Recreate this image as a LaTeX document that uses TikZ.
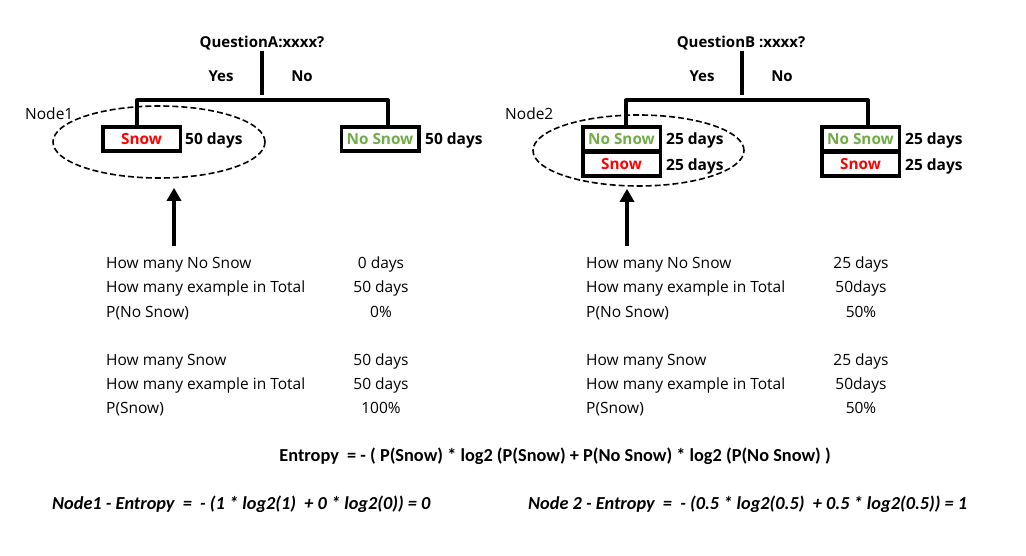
\documentclass[tikz,border=0pt]{standalone}
\usepackage{fontspec}
\setmainfont{Open Sans}
\newfontfamily\calib{Carlito}
\usetikzlibrary{shapes.geometric,arrows.meta}
\definecolor{snowred}{RGB}{255,0,0}
\definecolor{nsgreen}{RGB}{112,173,71}
\begin{document}
\begin{tikzpicture}[x=1pt,y=-1pt,
  lbl/.style={font=\fontsize{15}{18}\selectfont\bfseries, inner sep=0pt},
  days/.style={font=\fontsize{15.5}{18}\selectfont\bfseries, inner sep=0pt, anchor=base west},
  plain/.style={font=\fontsize{15.5}{18}\selectfont, inner sep=0pt},
  val/.style={plain, anchor=base},
  row/.style={plain, anchor=base west},
  box/.style={draw, line width=3.5pt, minimum width=77.5pt, minimum height=24pt, inner sep=0pt,
    text height=11.5pt, text depth=-1pt, font=\fontsize{15.3}{18}\selectfont\bfseries},
  tree/.style={line width=4pt, line join=round},
  grp/.style={draw, ellipse, dash pattern=on 6pt off 3pt, line width=1.6pt, inner sep=0pt},
  up/.style={line width=4pt, -{Triangle[length=13pt,width=14pt]}},
  formula/.style={font=\calib\fontsize{18.3}{21}\selectfont\bfseries, inner sep=0pt, anchor=base},
  formi/.style={font=\calib\fontsize{18.3}{21}\selectfont\bfseries\itshape, inner sep=0pt, anchor=base west}
]
\useasboundingbox[fill=white] (0,0) rectangle (1026,556);

% ---------- Tree A ----------
\node[lbl, anchor=base] (qA) at (262,48) {QuestionA:xxxx?};
\node[lbl, anchor=base] (yA) at (221,82) {Yes};
\node[lbl, anchor=base] (noA) at (302,82) {No};
\coordinate (bAL) at (137,100.5);
\coordinate (bAR) at (388,100.5);
\node[box, text=snowred] (sA) at (141.5,139) {Snow};
\node[box, text=nsgreen] (nA) at (380,139) {No Snow};
\node[days] (dA1) at (185,145) {50 days};
\node[days] (dA2) at (425,145) {50 days};
\draw[tree] (qA.south) -- ([yshift=5pt]qA.south |- bAL);
\draw[tree] (sA.north -| bAL) -- (bAL) -- (bAR) -- (nA.north -| bAR);
\node[grp, minimum width=212pt, minimum height=72pt] (eA) at (159,142) {};
\node[plain, anchor=west] (n1) at (25,114) {Node1};
\coordinate (aA) at (174,246);
\draw[up, shorten >=9pt] (aA) -- (aA |- eA.south);

% ---------- Tree B ----------
\node[lbl, anchor=base] (qB) at (741,48) {QuestionB :xxxx?};
\node[lbl, anchor=base] (yB) at (702,82) {Yes};
\node[lbl, anchor=base] (noB) at (782,82) {No};
\coordinate (bBL) at (626,100.5);
\coordinate (bBR) at (868,100.5);
\node[box, text=nsgreen] (nB1) at (621.5,139) {No Snow};
\node[box, text=snowred] (sB1) at (621.5,164) {Snow};
\node[box, text=nsgreen] (nB2) at (860.5,139) {No Snow};
\node[box, text=snowred] (sB2) at (860.5,164) {Snow};
\node[days] (dB1) at (666,145) {25 days};
\node[days] (dB2) at (666,171) {25 days};
\node[days] (dB3) at (905,145) {25 days};
\node[days] (dB4) at (905,171) {25 days};
\draw[tree] ([xshift=0.5pt]qB.south) -- ([xshift=0.5pt,yshift=5pt]qB.south |- bBL);
\draw[tree] (nB1.north -| bBL) -- (bBL) -- (bBR) -- (nB2.north -| bBR);
\node[grp, minimum width=211pt, minimum height=71pt] (eB) at (638.5,150.5) {};
\node[plain, anchor=west] (n2) at (505,114) {Node2};
\coordinate (aB) at (627,246);
\draw[up, shorten >=2pt] (aB) -- (aB |- eB.south);

% ---------- counts A ----------
\node[row] (ra1) at (106,269) {How many No Snow};
\node[row] (ra2) at (106,293) {How many example in Total};
\node[row] (ra3) at (106,317) {P(No Snow)};
\node[row] (ra4) at (106,365) {How many Snow};
\node[row] (ra5) at (106,389) {How many example in Total};
\node[row] (ra6) at (106,413) {P(Snow)};
\node[val] (va1) at (381,269) {0 days};
\node[val] (va2) at (381,293) {50 days};
\node[val] (va3) at (381,317) {0\%};
\node[val] (va4) at (381,365) {50 days};
\node[val] (va5) at (381,389) {50 days};
\node[val] (va6) at (381,413) {100\%};

% ---------- counts B ----------
\node[row] (rb1) at (586,269) {How many No Snow};
\node[row] (rb2) at (586,293) {How many example in Total};
\node[row] (rb3) at (586,317) {P(No Snow)};
\node[row] (rb4) at (586,365) {How many Snow};
\node[row] (rb5) at (586,389) {How many example in Total};
\node[row] (rb6) at (586,413) {P(Snow)};
\node[val] (vb1) at (861,269) {25 days};
\node[val] (vb2) at (861,293) {50days};
\node[val] (vb3) at (861,317) {50\%};
\node[val] (vb4) at (861,365) {25 days};
\node[val] (vb5) at (861,389) {50days};
\node[val] (vb6) at (861,413) {50\%};

% ---------- formulas ----------
\node[formula] (ent) at (555,461) {Entropy ~= - ( P(Snow) * log2 (P(Snow) + P(No Snow) * log2 (P(No Snow) )};
\node[formi] (e1) at (52,509) {Node1 - Entropy ~= ~- (1 * log2(1) ~+ 0 * log2(0)) = 0};
\node[formi] (e2) at (528,509) {Node 2 - Entropy ~= ~- (0.5 * log2(0.5) ~+ 0.5 * log2(0.5)) = 1};
\end{tikzpicture}
\end{document}
